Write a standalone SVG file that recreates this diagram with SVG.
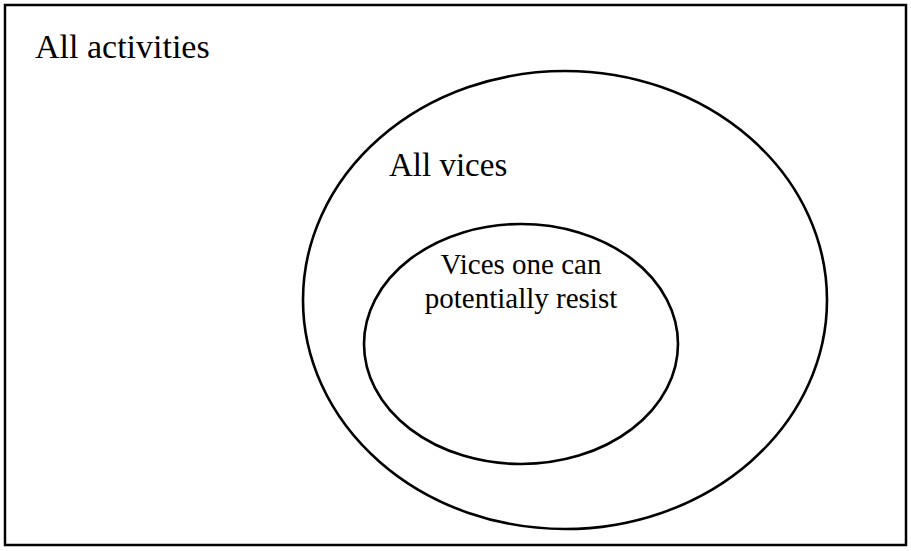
<svg xmlns="http://www.w3.org/2000/svg" width="911" height="551" viewBox="0 0 911 551">
<style>
.shape{fill:none;stroke:#000;stroke-width:2.6}
.lbl{font-family:"Liberation Serif","Times New Roman",serif;fill:#000}
</style>
<rect x="0" y="0" width="911" height="551" fill="#fff"/>
<g id="all-activities">
<rect x="5" y="5" width="901" height="540" fill="none" stroke="#000" stroke-width="2.5"/>
<text class="lbl" x="35" y="58" font-size="34">All activities</text>
</g>
<g id="all-vices">
<ellipse class="shape" cx="565" cy="300" rx="262" ry="229"/>
<text class="lbl" x="389" y="176" font-size="33">All vices</text>
</g>
<g id="resistible-vices">
<ellipse class="shape" cx="521" cy="344" rx="157" ry="120"/>
<text class="lbl" x="521" y="274" font-size="29" text-anchor="middle">Vices one can</text>
<text class="lbl" x="521" y="308" font-size="29" text-anchor="middle">potentially resist</text>
</g>
<g id="connectors"/>
</svg>
